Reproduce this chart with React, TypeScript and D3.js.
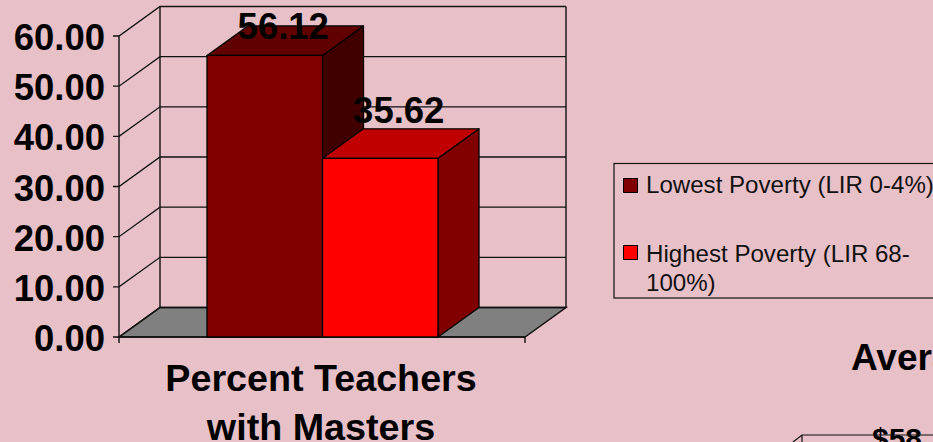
import React from "react";
import * as d3 from "d3";

const seriesNames = ["Lowest Poverty (LIR 0-4%)", "Highest Poverty (LIR 68-100%)"];
const seriesValues = [56.12, 35.62];
const seriesLabels = ["56.12", "35.62"];
const frontColors = ["#800000", "#ff0000"];
const topColors = ["#600000", "#c00000"];
const sideColors = ["#400000", "#800000"];
const yTicks = [0, 10, 20, 30, 40, 50, 60];
const categoryLines = ["Percent Teachers", "with Masters"];

const W = 933, H = 442;
const FONT = "'Liberation Sans', Arial, sans-serif";
const INK = "#111";
const dx = 41, dy = -29.5;
const y = d3.scaleLinear().domain([0, 60]).range([337, 36]);
const x = d3.scaleBand<number>().domain([0, 1]).range([207, 438]).padding(0);
const poly = (pts: number[][]) => (d3.line()(pts as [number, number][]) ?? "") + "Z";
const labelLift = [16.5, 35];

export default function App() {
  const x0 = 119, x1 = 525, base = y(0), top = y(60);
  return (
    <svg width={W} height={H} viewBox={`0 0 ${W} ${H}`} style={{ position: "absolute", left: 0, top: 0, background: "#e8c0c8", fontFamily: FONT }}>
      <path d={poly([[x0, base], [x0 + dx, base + dy], [x1 + dx, base + dy], [x1, base]])} fill="#808080" stroke={INK} strokeWidth={1.5} />
      {yTicks.map(t => (
        <g key={t}>
          <path d={`M${x0 - 6},${y(t)}H${x0}L${x0 + dx},${y(t) + dy}H${x1 + dx}`} fill="none" stroke={INK} strokeWidth={1.3} />
          <text x={105} y={y(t) + 14} textAnchor="end" fontSize={36.5} fontWeight={700} fill="#000">{t.toFixed(2)}</text>
        </g>
      ))}
      <path d={`M${x0},${top}V${base + 6}M${x0 + dx},${top + dy}V${base + dy}M${x1 + dx},${top + dy}V${base + dy}`} fill="none" stroke={INK} strokeWidth={1.4} />
      <path d={`M${x0},${base}H${x1}V${base + 6}`} fill="none" stroke={INK} strokeWidth={1.4} />
      {seriesValues.map((v, i) => {
        const l = x(i)!, r = l + x.bandwidth(), t = y(v);
        return (
          <g key={i} stroke="#000" strokeWidth={1.3} strokeLinejoin="round">
            <path d={poly([[r, t], [r + dx, t + dy], [r + dx, base + dy], [r, base]])} fill={sideColors[i]} />
            <path d={poly([[l, t], [l + dx, t + dy], [r + dx, t + dy], [r, t]])} fill={topColors[i]} />
            <rect x={l} y={t} width={x.bandwidth()} height={base - t} fill={frontColors[i]} />
          </g>
        );
      })}
      {seriesValues.map((v, i) => (
        <text key={i} x={x(i)! + x.bandwidth() / 2 + 18.5} y={y(v) - labelLift[i]} textAnchor="middle" fontSize={36.5} fontWeight={700} fill="#000">{seriesLabels[i]}</text>
      ))}
      {categoryLines.map((s, i) => (
        <text key={s} x={321} y={390.5 + i * 49.5} textAnchor="middle" fontSize={37.7} fontWeight={700} fill="#000">{s}</text>
      ))}
      <rect x={614} y={163.5} width={340} height={134.5} fill="none" stroke={INK} strokeWidth={1.2} />
      <rect x={623.5} y={178.5} width={14} height={14} fill={frontColors[0]} stroke="#000" />
      <rect x={623.5} y={245.5} width={14} height={14} fill={frontColors[1]} stroke="#000" />
      <text x={646} y={192.5} fontSize={24.1} fill="#111">{seriesNames[0]}</text>
      <text x={646} y={261.5} fontSize={24.1} fill="#111">Highest Poverty (LIR 68-</text>
      <text x={646} y={291} fontSize={24.1} fill="#111">100%)</text>
      <text x={851} y={370} fontSize={37} fontWeight={700} fill="#000">Average</text>
      <text x={872} y={449} fontSize={30} fontWeight={700} fill="#000">$58</text>
      <path d="M793,442L802,435H933M802,435V442" fill="none" stroke={INK} strokeWidth={1.2} />
    </svg>
  );
}
